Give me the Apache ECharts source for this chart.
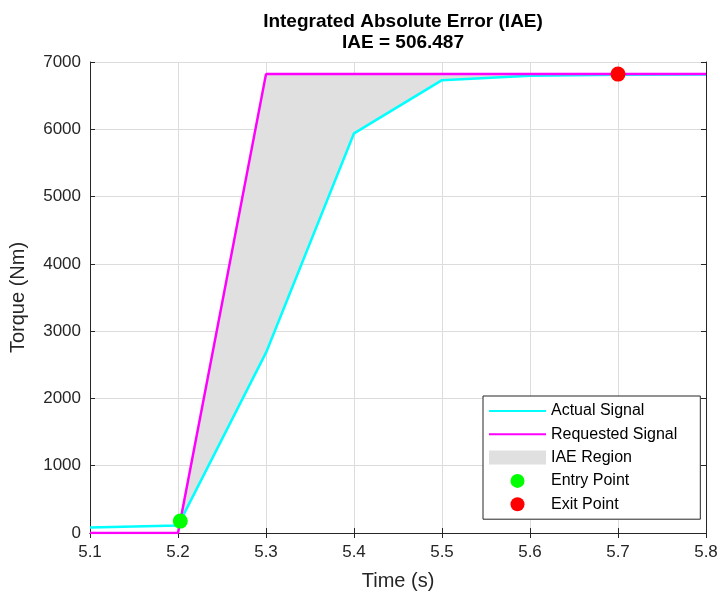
<!DOCTYPE html>
<html>
<head>
<meta charset="utf-8">
<script src="https://cdn.jsdelivr.net/npm/echarts@6/dist/echarts.min.js"></script>
<style>
  html, body { margin: 0; padding: 0; background: #fff; }
  #container { width: 720px; height: 592px; }
</style>
</head>
<body>
<div id="container"></div>
<script>
const container = document.getElementById('container');
const chartIns = echarts.init(container, undefined, { renderer: 'canvas' });

// data
const time = [5.1, 5.2, 5.3, 5.4, 5.5, 5.6, 5.7, 5.8];
const actual = [80, 110, 2680, 5940, 6730, 6795, 6810, 6815];
const requested = [0, 0, 6820, 6820, 6820, 6820, 6820, 6820];
const entryPoint = [5.2026, 177];
const exitPoint = [5.7, 6820];
const iaeValue = '506.487';

const FONT = '"Liberation Sans", Arial, sans-serif';
const TXT = '#262626';

const pair = (xs, ys) => xs.map((x, i) => [x, ys[i]]);

// polygon between requested (top) and actual (bottom), entry -> exit
function iaePolygon() {
  const inside = time.map((t, i) => i).filter(i => time[i] > entryPoint[0] && time[i] <= exitPoint[0]);
  const top = [entryPoint].concat(inside.map(i => [time[i], requested[i]]));
  const bottom = inside.slice().reverse().map(i => [time[i], actual[i]]);
  return top.concat(bottom);
}

const axisCommon = {
  axisLine: { show: true, lineStyle: { color: TXT, width: 1 } },
  axisTick: { show: true, inside: true, length: 5, lineStyle: { color: TXT } }
};

const option = {
  animation: false,
  title: {
    text: 'Integrated Absolute Error (IAE)\nIAE = ' + iaeValue,
    left: 398,
    top: 6,
    textAlign: 'center',
    textStyle: { fontFamily: FONT, fontSize: 19, fontWeight: 'bold', color: '#000', lineHeight: 21 }
  },
  grid: { left: 90, right: 14, top: 62, bottom: 59, containLabel: false, outerBoundsMode: 'none' },
  legend: {
    orient: 'vertical',
    left: 483,
    top: 396,
    padding: [7, 23, 7, 5],
    itemWidth: 57,
    itemHeight: 14,
    itemGap: 7.3,
    backgroundColor: '#fff',
    borderColor: TXT,
    borderWidth: 1,
    borderRadius: 0,
    textStyle: { fontFamily: FONT, fontSize: 16, color: '#000' },
    data: [
      { name: 'Actual Signal', itemStyle: { opacity: 0 } },
      { name: 'Requested Signal', itemStyle: { opacity: 0 } },
      { name: 'IAE Region', icon: 'rect' },
      { name: 'Entry Point', icon: 'circle' },
      { name: 'Exit Point', icon: 'circle' }
    ]
  },
  xAxis: [{
    type: 'value',
    min: 5.1,
    max: 5.8,
    interval: 0.1,
    name: 'Time (s)',
    nameLocation: 'middle',
    nameGap: 38,
    nameTextStyle: { fontFamily: FONT, fontSize: 20, color: TXT },
    axisLabel: { fontFamily: FONT, fontSize: 17, color: TXT, margin: 11,
      formatter: v => v.toFixed(1) },
    splitLine: { show: true, lineStyle: { color: '#dcdcdc', width: 1 } },
    ...axisCommon
  }, {
    type: 'value',
    position: 'top',
    min: 5.1,
    max: 5.8,
    interval: 0.1,
    axisLabel: { show: false },
    splitLine: { show: false },
    ...axisCommon
  }],
  yAxis: [{
    type: 'value',
    min: 0,
    max: 7000,
    interval: 1000,
    name: 'Torque (Nm)',
    nameLocation: 'middle',
    nameGap: 62,
    nameTextStyle: { fontFamily: FONT, fontSize: 20, color: TXT },
    axisLabel: { fontFamily: FONT, fontSize: 17, color: TXT, margin: 9,
      formatter: v => String(v) },
    splitLine: { show: true, lineStyle: { color: '#dcdcdc', width: 1 } },
    ...axisCommon
  }, {
    type: 'value',
    position: 'right',
    min: 0,
    max: 7000,
    interval: 1000,
    axisLabel: { show: false },
    splitLine: { show: false },
    ...axisCommon
  }],
  series: [
    {
      name: 'IAE Region',
      type: 'custom',
      z: 1,
      itemStyle: { color: '#e0e0e0' },
      data: [[0]],
      renderItem: function (params, api) {
        const pts = iaePolygon().map(p => api.coord(p));
        return {
          type: 'polygon',
          shape: { points: pts },
          style: { fill: '#e0e0e0', stroke: null }
        };
      }
    },
    {
      name: 'Actual Signal',
      type: 'line',
      z: 3,
      symbol: 'none',
      color: '#00ffff',
      lineStyle: { color: '#00ffff', width: 2.5 },
      data: pair(time, actual)
    },
    {
      name: 'Requested Signal',
      type: 'line',
      z: 4,
      symbol: 'none',
      color: '#ff00ff',
      lineStyle: { color: '#ff00ff', width: 2.5 },
      data: pair(time, requested)
    },
    {
      name: 'Entry Point',
      type: 'scatter',
      z: 5,
      symbolSize: 15,
      itemStyle: { color: '#00ff00', opacity: 1 },
      data: [entryPoint]
    },
    {
      name: 'Exit Point',
      type: 'scatter',
      z: 5,
      symbolSize: 15,
      itemStyle: { color: '#ff0000', opacity: 1 },
      data: [exitPoint]
    }
  ]
};

chartIns.setOption(option);
</script>
</body>
</html>
